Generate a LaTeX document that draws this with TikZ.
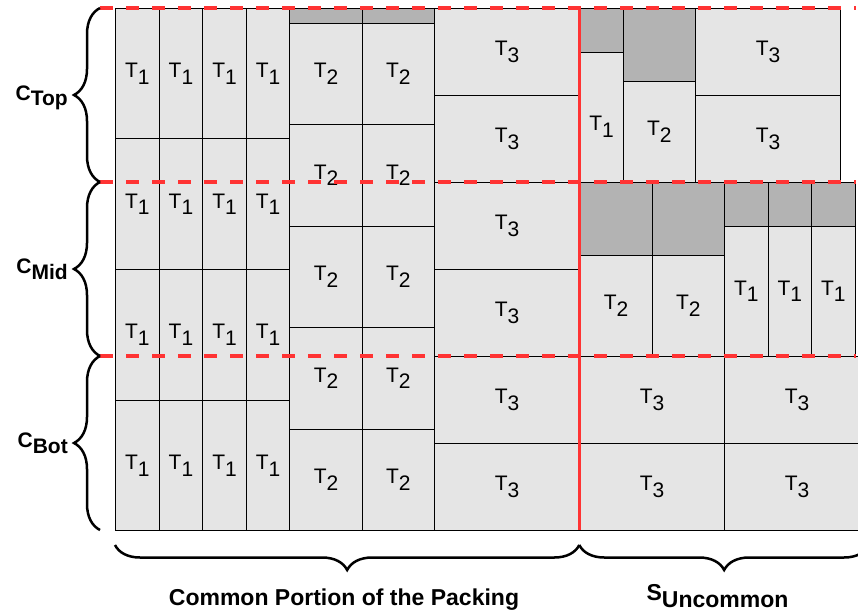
\documentclass[tikz,border=0pt]{standalone}
\usepackage{fontspec}
\setmainfont{Liberation Sans}
\usetikzlibrary{decorations.pathreplacing}
\definecolor{cellgray}{HTML}{E5E5E5}
\definecolor{bandgray}{HTML}{B3B3B3}
\definecolor{redline}{HTML}{FF3333}
\newcommand\Tsub[1]{T\raisebox{-6.7pt}{#1}}
\newcommand\cellat[7]{\node[cellnode, fill=#6, minimum width={(#4-#2)*1pt}, minimum height={(#5-#3)*1pt}] (#1) at (#2,#3) {#7};}
\tikzset{
  cellnode/.style={draw=black, line width=1pt, inner sep=0pt, anchor=north west, font=\fontsize{21}{21}\selectfont},
  reddash/.style={draw=redline, line width=3.5pt, dash pattern=on 12.7pt off 13.3pt},
  redsolid/.style={draw=redline, line width=3.5pt},
  bracestyle/.style={draw=black, line width=2.5pt, decorate, decoration={brace, amplitude=#1}},
  clabel/.style={anchor=base east, font=\fontsize{21}{21}\selectfont\bfseries, inner sep=0pt},
  blabel/.style={anchor=base, font=\fontsize{23}{23}\selectfont\bfseries, inner sep=0pt}
}
\begin{document}
\begin{tikzpicture}[x=1pt,y=-1pt]
\useasboundingbox (0,0) rectangle (858,613);
\begin{scope}
\clip (0,0) rectangle (858,613);
% common part: T1 columns
\foreach \xa/\xb [count=\i] in {115/158.7,158.7/202.3,202.3/245.7,245.7/289.3} {
  \foreach \ya/\yb [count=\j] in {8/138.3,138.3/269,269/400,400/530} {
    \cellat{a\i\j}{\xa}{\ya}{\xb}{\yb}{cellgray}{\Tsub1}
  }
}
% common part: T2 columns
\foreach \xa/\xb [count=\i] in {289.3/362,362/433.7} {
  \cellat{g\i}{\xa}{8}{\xb}{22.7}{bandgray}{}
  \foreach \ya/\yb [count=\j] in {22.7/124,124/225.7,225.7/326.7,326.7/428.7,428.7/530} {
    \cellat{b\i\j}{\xa}{\ya}{\xb}{\yb}{cellgray}{\Tsub2}
  }
}
% common part: T3 column
\foreach \ya/\yb [count=\j] in {8/95,95/182,182/269,269/356,356/443,443/530} {
  \cellat{c\j}{433.7}{\ya}{579.3}{\yb}{cellgray}{\Tsub3}
}
% uncommon: top section
\cellat{ug1}{579.3}{8}{622.7}{51.7}{bandgray}{}
\cellat{ut1}{579.3}{51.7}{622.7}{182}{cellgray}{\smash{\raisebox{-13pt}{\Tsub1}}}
\cellat{ug2}{622.7}{8}{695}{80.7}{bandgray}{}
\cellat{ut2}{622.7}{80.7}{695}{182}{cellgray}{\Tsub2}
\cellat{ut3a}{695}{8}{840}{95}{cellgray}{\Tsub3}
\cellat{ut3b}{695}{95}{840}{182}{cellgray}{\Tsub3}
% uncommon: middle section
\foreach \xa/\xb [count=\i] in {579.3/651.7,651.7/724} {
  \cellat{mg\i}{\xa}{182}{\xb}{254.7}{bandgray}{}
  \cellat{mt\i}{\xa}{254.7}{\xb}{356}{cellgray}{\Tsub2}
}
\foreach \xa/\xb [count=\i] in {724/767.7,767.7/811,811/854.7} {
  \cellat{mh\i}{\xa}{182}{\xb}{225.7}{bandgray}{}
  \cellat{ms\i}{\xa}{225.7}{\xb}{356}{cellgray}{\Tsub1}
}
% uncommon: bottom section
\foreach \xa/\xb [count=\i] in {579.3/724,724/869} {
  \foreach \ya/\yb [count=\j] in {356/443,443/530} {
    \cellat{bt\i\j}{\xa}{\ya}{\xb}{\yb}{cellgray}{\Tsub3}
  }
}
% red separators
\coordinate (d1s) at (100,8);   \coordinate (d1e) at (856,8);
\coordinate (d2s) at (100,182); \coordinate (d2e) at (856,182);
\coordinate (d3s) at (100,356); \coordinate (d3e) at (856,356);
\draw[reddash] (d1s) -- (d1e);
\draw[reddash] (d2s) -- (d2e);
\draw[reddash] (d3s) -- (d3e);
\coordinate (vtop) at (579.3,8); \coordinate (vbot) at (579.3,530);
\draw[redsolid] (vtop) -- (vbot);
% bottom braces
\coordinate (hb1) at (115,545); \coordinate (hb2) at (579.3,545); \coordinate (hb3) at (869,545);
\draw[bracestyle=25] (hb2) -- (hb1);
\draw[bracestyle=25] (hb3) -- (hb2);
\end{scope}
% left braces
\coordinate (lb0) at (100,8); \coordinate (lb1) at (100,182);
\coordinate (lb2) at (100,356); \coordinate (lb3) at (100,530);
\draw[bracestyle=26] (lb1) -- (lb0);
\draw[bracestyle=26] (lb2) -- (lb1);
\draw[bracestyle=26] (lb3) -- (lb2);
\node[clabel] (ctop) at (68,100) {C\raisebox{-5pt}{Top}};
\node[clabel] (cmid) at (68,273.5) {C\raisebox{-6pt}{Mid}};
\node[clabel] (cbot) at (68,447.5) {C\raisebox{-6pt}{Bot}};
% bottom labels
\node[blabel] (common) at (344,605) {Common Portion of the Packing};
\node[blabel] (uncommon) at (717.5,600) {S\raisebox{-7pt}{Uncommon}};
\end{tikzpicture}
\end{document}
